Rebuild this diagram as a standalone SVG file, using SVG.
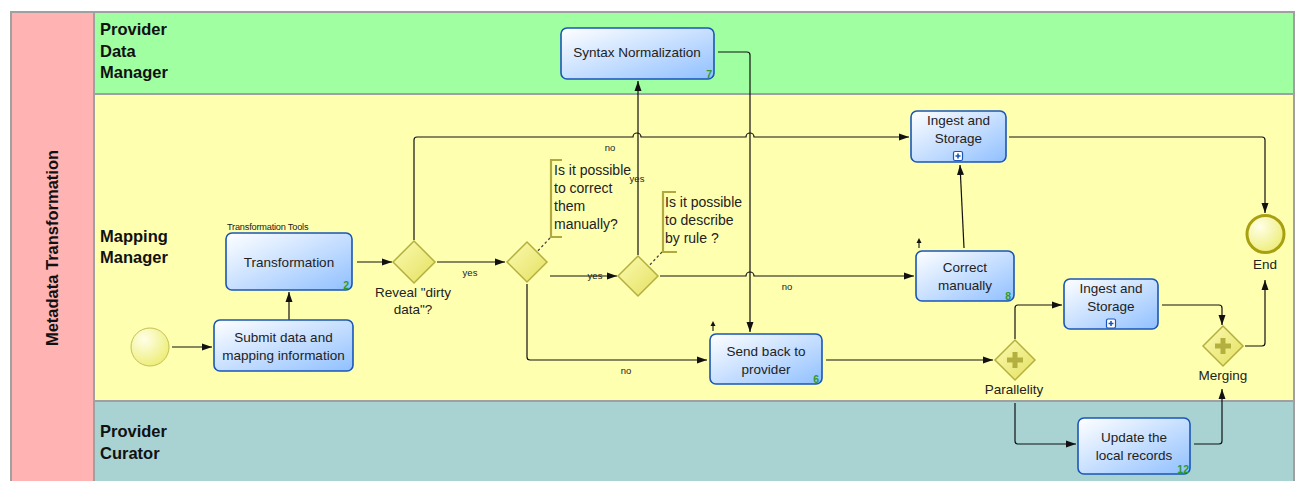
<svg xmlns="http://www.w3.org/2000/svg" width="1299" height="481" viewBox="0 0 1299 481">
  <defs>
    <linearGradient id="taskFill" x1="0" y1="0" x2="1" y2="1">
      <stop offset="0" stop-color="#ffffff"/>
      <stop offset="1" stop-color="#90c0ff"/>
    </linearGradient>
    <linearGradient id="gateFill" x1="0" y1="0" x2="1" y2="1">
      <stop offset="0" stop-color="#fbfbb0"/>
      <stop offset="1" stop-color="#e4e060"/>
    </linearGradient>
    <radialGradient id="eventFill" cx="0.35" cy="0.3" r="0.8">
      <stop offset="0" stop-color="#ffffe8"/>
      <stop offset="1" stop-color="#ecec70"/>
    </radialGradient>
    <marker id="arrow" markerUnits="userSpaceOnUse" markerWidth="11" markerHeight="8" refX="10" refY="4" orient="auto">
      <path d="M0,0.5 L10,4 L0,7.5 z" fill="#111"/>
    </marker>
  </defs>
  <style>
    .lane-label { font-family: "Liberation Sans", Arial, sans-serif; font-weight: bold; font-size: 16.5px; fill: #111; }
    .task { fill: url(#taskFill); stroke: #1a56b8; stroke-width: 1.6; }
    .task-text { font-family: "Liberation Sans", Arial, sans-serif; font-size: 13.5px; fill: #222; text-anchor: middle; }
    .num { font-family: "Liberation Sans", Arial, sans-serif; font-size: 10.5px; font-weight: bold; fill: #2e9a2e; text-anchor: end; }
    .gate { fill: url(#gateFill); stroke: #b4b040; stroke-width: 1.5; }
    .plus { stroke: #b4b040; stroke-width: 5; }
    .gate-text { font-family: "Liberation Sans", Arial, sans-serif; font-size: 13.5px; fill: #222; text-anchor: middle; }
    .note-text { font-family: "Liberation Sans", Arial, sans-serif; font-size: 14px; fill: #222; }
    .bracket { fill: none; stroke: #b0a840; stroke-width: 2.2; }
    .assoc { fill: none; stroke: #444; stroke-width: 1.3; stroke-dasharray: 2.5 2.5; }
    .flow { fill: none; stroke: #111; stroke-width: 1.2; marker-end: url(#arrow); }
    .flow-label { font-family: "Liberation Sans", Arial, sans-serif; font-size: 9.5px; fill: #222; text-anchor: middle; }
    .sub-mark { fill: #fff; stroke: #1a56b8; stroke-width: 1.2; }
    .sub-plus { stroke: #1a56b8; stroke-width: 1.6; }
    .loop-mark { fill: none; stroke: #111; stroke-width: 1.1; }
    .loop-head { fill: #111; }
  </style>

  <!-- page background -->
  <rect x="0" y="0" width="1299" height="481" fill="#ffffff"/>

  <!-- pool and lanes -->
  <g id="pool">
    <rect x="10" y="11" width="1285" height="472" fill="#a0a0a0"/>
    <rect x="12" y="13" width="81" height="470" fill="#ffb3b3"/>
    <rect x="95" y="13" width="1198" height="80" fill="#a0ffa0"/>
    <rect x="95" y="95" width="1198" height="305" fill="#ffffb0"/>
    <rect x="95" y="402" width="1198" height="81" fill="#a8d3d2"/>
    <text class="lane-label" transform="translate(58,248) rotate(-90)" text-anchor="middle">Metadata Transformation</text>
  </g>
  <g id="lane-provider-data-manager">
    <text class="lane-label" x="100" y="35">Provider</text>
    <text class="lane-label" x="100" y="56.5">Data</text>
    <text class="lane-label" x="100" y="78">Manager</text>
  </g>
  <g id="lane-mapping-manager">
    <text class="lane-label" x="100" y="242">Mapping</text>
    <text class="lane-label" x="100" y="263">Manager</text>
  </g>
  <g id="lane-provider-curator">
    <text class="lane-label" x="100" y="437">Provider</text>
    <text class="lane-label" x="100" y="458.5">Curator</text>
  </g>

  <!-- sequence flows -->
  <g id="connectors">
    <path class="flow" d="M172,347 H212"/>
    <path class="flow" d="M289,320 V292"/>
    <path class="flow" d="M357,262 H392"/>
    <path class="flow" d="M437,262 H505"/>
    <path class="flow" d="M414,240 V140 Q414,137 417,137 H633 a4,4 0 0 1 8,0 H746 a4,4 0 0 1 8,0 H909"/>
    <path class="flow" d="M527,284 V357 Q527,360 530,360 H707"/>
    <path class="flow" d="M550,276 H617"/>
    <path class="flow" d="M638,255 V81"/>
    <path class="flow" d="M660,276 H746 a4,4 0 0 1 8,0 H914"/>
    <path class="flow" d="M718,52 H747 Q750,52 750,55 V332"/>
    <path class="flow" d="M826,360 H993"/>
    <path class="flow" d="M964,248 L960,165"/>
    <path class="flow" d="M1009,137 H1262 Q1265,137 1265,140 V213"/>
    <path class="flow" d="M1015,339 V308 Q1015,305 1018,305 H1062"/>
    <path class="flow" d="M1015,403 V441 Q1015,444 1018,444 H1076"/>
    <path class="flow" d="M1162,305 H1219 Q1222,305 1222,308 V325"/>
    <path class="flow" d="M1194,444 H1219 Q1222,444 1222,441 V389"/>
    <path class="flow" d="M1245,346 H1262 Q1265,346 1265,343 V280"/>
    <text class="flow-label" x="610" y="151">no</text>
    <text class="flow-label" x="637" y="182">yes</text>
    <text class="flow-label" x="470" y="276">yes</text>
    <text class="flow-label" x="595" y="279">yes</text>
    <text class="flow-label" x="787" y="290">no</text>
    <text class="flow-label" x="626" y="374">no</text>
    <path class="assoc" d="M550,238 L533,256"/>
    <path class="assoc" d="M662,252 L646,269"/>
  </g>

  <!-- start event -->
  <g id="start">
    <circle cx="150" cy="347" r="19" fill="url(#eventFill)" stroke="#c4c050" stroke-width="1"/>
  </g>

  <g id="submit">
    <rect class="task" x="214" y="320" width="139" height="51" rx="6"/>
    <text class="task-text" x="283.5" y="342">Submit data and</text>
    <text class="task-text" x="283.5" y="360">mapping information</text>
  </g>

  <g id="transformation">
    <text x="227" y="229.5" font-family="'Liberation Sans', Arial, sans-serif" font-size="9.2px" fill="#222" letter-spacing="-0.2">Transformation Tools</text>
    <rect class="task" x="226" y="233" width="126" height="57" rx="6"/>
    <text class="task-text" x="289" y="267">Transformation</text>
    <text class="num" x="349" y="289">2</text>
  </g>

  <g id="gateway-dirty">
    <path class="gate" d="M414,241 L435,262 L414,283 L393,262 z"/>
    <text class="gate-text" x="413" y="297">Reveal "dirty</text>
    <text class="gate-text" x="413" y="314">data"?</text>
  </g>

  <g id="gateway-manual">
    <path class="gate" d="M527,242 L547,262 L527,282 L507,262 z"/>
  </g>
  <g id="note-manual">
    <path class="bracket" d="M562,160 H551 V237 H562"/>
    <text class="note-text" x="554" y="175">Is it possible</text>
    <text class="note-text" x="554" y="193">to correct</text>
    <text class="note-text" x="554" y="211">them</text>
    <text class="note-text" x="554" y="229">manually?</text>
  </g>

  <g id="gateway-rule">
    <path class="gate" d="M638,256 L658,276 L638,296 L618,276 z"/>
  </g>
  <g id="note-rule">
    <path class="bracket" d="M676,192 H663 V252 H677"/>
    <text class="note-text" x="665" y="207">Is it possible</text>
    <text class="note-text" x="665" y="225">to describe</text>
    <text class="note-text" x="665" y="243">by rule ?</text>
  </g>

  <g id="syntax-normalization">
    <rect class="task" x="561" y="28" width="153" height="51" rx="6"/>
    <text class="task-text" x="637" y="57">Syntax Normalization</text>
    <text class="num" x="712" y="78">7</text>
  </g>

  <g id="send-back">
    <!-- small upward marker at the top-left corner -->
    <path class="loop-mark" d="M713,331 V325"/>
    <path class="loop-head" d="M710.5,326 L713,321 L715.5,326 z"/>
    <rect class="task" x="710" y="334" width="112" height="50" rx="6"/>
    <text class="task-text" x="766" y="356">Send back to</text>
    <text class="task-text" x="766" y="374">provider</text>
    <text class="num" x="819" y="383">6</text>
  </g>

  <g id="ingest-storage-1">
    <rect class="task" x="911" y="111" width="95" height="51" rx="6"/>
    <text class="task-text" x="958.5" y="125">Ingest and</text>
    <text class="task-text" x="958.5" y="143">Storage</text>
    <rect class="sub-mark" x="953.5" y="151.5" width="9" height="9" rx="1.5"/>
    <path class="sub-plus" d="M955.5,156 H960.5 M958,153.5 V158.5"/>
  </g>

  <g id="correct-manually">
    <path class="loop-mark" d="M919,248 V242"/>
    <path class="loop-head" d="M916.5,243 L919,238 L921.5,243 z"/>
    <rect class="task" x="916" y="251" width="98" height="50" rx="6"/>
    <text class="task-text" x="965" y="272">Correct</text>
    <text class="task-text" x="965" y="290">manually</text>
    <text class="num" x="1011" y="300">8</text>
  </g>

  <g id="parallelity">
    <path class="gate" d="M1015,340 L1035,360 L1015,380 L995,360 z"/>
    <path class="plus" d="M1007,360 H1023 M1015,352 V368"/>
    <text class="gate-text" x="1014" y="394">Parallelity</text>
  </g>

  <g id="ingest-storage-2">
    <rect class="task" x="1064" y="279" width="94" height="50" rx="6"/>
    <text class="task-text" x="1111" y="293">Ingest and</text>
    <text class="task-text" x="1111" y="311">Storage</text>
    <rect class="sub-mark" x="1106.5" y="319" width="9" height="9" rx="1.5"/>
    <path class="sub-plus" d="M1108.5,323.5 H1113.5 M1111,321 V326"/>
  </g>

  <g id="update-records">
    <rect class="task" x="1078" y="418" width="112" height="56" rx="6"/>
    <text class="task-text" x="1134" y="442">Update the</text>
    <text class="task-text" x="1134" y="460">local records</text>
    <text class="num" x="1189" y="473">12</text>
  </g>

  <g id="merging">
    <path class="gate" d="M1223,326 L1243,346 L1223,366 L1203,346 z"/>
    <path class="plus" d="M1215,346 H1231 M1223,338 V354"/>
    <text class="gate-text" x="1223" y="380">Merging</text>
  </g>

  <g id="end">
    <circle cx="1265.5" cy="234" r="18.5" fill="url(#eventFill)" stroke="#a8a010" stroke-width="3"/>
    <text class="gate-text" x="1265" y="269">End</text>
  </g>
</svg>
